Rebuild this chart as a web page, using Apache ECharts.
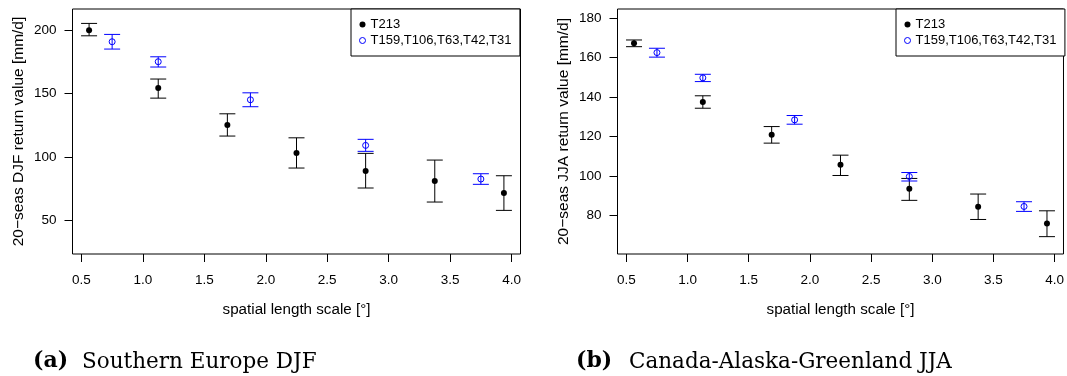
<!DOCTYPE html>
<html>
<head>
<meta charset="utf-8">
<script src="https://cdn.jsdelivr.net/npm/echarts@6/dist/echarts.min.js"></script>
<style>html,body{margin:0;padding:0;background:#fff;}#c{width:1067px;height:376px;}</style>
</head>
<body>
<div id="c"></div>
<script>
// ---- data ----
const xT213 = [0.5625, 1.125, 1.6875, 2.25, 2.8125, 3.375, 3.9375];
const xLowRes = [0.75, 1.125, 1.875, 2.8125, 3.75];

const djfT213   = [200.0, 154.4, 125.1, 102.9, 88.7, 80.8, 71.3];
const djfT213Lo = [195.7, 146.4, 116.4, 91.1, 75.3, 64.2, 57.6];
const djfT213Hi = [205.5, 161.5, 134.0, 115.0, 102.7, 97.4, 85.0];
const djfLow    = [191.0, 175.2, 145.1, 109.0, 82.4];
const djfLowLo  = [185.2, 171.0, 139.6, 104.3, 78.2];
const djfLowHi  = [196.8, 179.1, 150.6, 113.8, 86.6];

const jjaT213   = [167.3, 137.6, 120.9, 105.7, 93.6, 84.5, 75.9];
const jjaT213Lo = [165.6, 134.4, 116.7, 100.3, 87.7, 78.0, 69.3];
const jjaT213Hi = [169.0, 140.7, 125.1, 110.6, 98.8, 90.9, 82.4];
const jjaLow    = [162.6, 149.8, 128.5, 99.8, 84.6];
const jjaLowLo  = [160.3, 147.9, 126.3, 97.5, 82.1];
const jjaLowHi  = [164.8, 151.6, 130.7, 101.8, 87.0];

const xTicks = [0.5, 1.0, 1.5, 2.0, 2.5, 3.0, 3.5, 4.0];
const yTicksDJF = [50, 100, 150, 200];
const yTicksJJA = [80, 100, 120, 140, 160, 180];

const nameHi = 'T213';
const nameLow = 'T159,T106,T63,T42,T31';
const yTitleDJF = '20\u2212seas DJF return value [mm/d]';
const yTitleJJA = '20\u2212seas JJA return value [mm/d]';
const xTitle = 'spatial length scale [\u00b0]';

// ---- styles ----
const FONT = '"Liberation Sans", Arial, Helvetica, sans-serif';
const BLACK = '#000000';
const BLUE = '#0000ff';

function errRender(color) {
  return function (params, api) {
    const x = api.value(0), lo = api.value(1), hi = api.value(2);
    const a = api.coord([x, lo]), b = api.coord([x, hi]);
    const w = 8;
    const st = { stroke: color, lineWidth: 1 };
    return {
      type: 'group',
      children: [
        { type: 'line', shape: { x1: a[0], y1: a[1], x2: b[0], y2: b[1] }, style: st },
        { type: 'line', shape: { x1: a[0] - w, y1: a[1], x2: a[0] + w, y2: a[1] }, style: st },
        { type: 'line', shape: { x1: b[0] - w, y1: b[1], x2: b[0] + w, y2: b[1] }, style: st }
      ]
    };
  };
}

function xAxisFor(gi) {
  return {
    type: 'value', gridIndex: gi, min: 0.4275, max: 4.0725,
    name: xTitle, nameLocation: 'middle', nameGap: 48,
    nameTextStyle: { fontFamily: FONT, fontSize: 15.2, color: BLACK },
    axisLine: { show: false },
    axisTick: { show: true, inside: false, length: 8, customValues: xTicks, lineStyle: { color: BLACK } },
    axisLabel: { customValues: xTicks, margin: 19, fontFamily: FONT, fontSize: 13.5, color: BLACK,
      formatter: v => v.toFixed(1) },
    splitLine: { show: false }
  };
}
function yAxisFor(gi, min, max, ticks, title) {
  return {
    type: 'value', gridIndex: gi, min: min, max: max,
    name: title, nameLocation: 'middle', nameRotate: 90, nameGap: 46,
    nameTextStyle: { fontFamily: FONT, fontSize: 15.5, color: BLACK },
    axisLine: { show: false },
    axisTick: { show: true, inside: false, length: 8, customValues: ticks, lineStyle: { color: BLACK } },
    axisLabel: { customValues: ticks, margin: 16, fontFamily: FONT, fontSize: 13.5, color: BLACK },
    splitLine: { show: false }
  };
}

function seriesFor(gi, hi, hiLo, hiHi, low, lowLo, lowHi) {
  return [
    { type: 'custom', name: 'errHi' + gi, xAxisIndex: gi, yAxisIndex: gi,
      renderItem: errRender(BLACK), encode: { x: 0, y: [1, 2] },
      data: xT213.map((x, i) => [x, hiLo[i], hiHi[i]]), z: 2, silent: true },
    { type: 'custom', name: 'errLow' + gi, xAxisIndex: gi, yAxisIndex: gi,
      renderItem: errRender(BLUE), encode: { x: 0, y: [1, 2] },
      data: xLowRes.map((x, i) => [x, lowLo[i], lowHi[i]]), z: 2, silent: true },
    { type: 'scatter', name: nameHi, xAxisIndex: gi, yAxisIndex: gi,
      symbol: 'circle', symbolSize: 6, itemStyle: { color: BLACK, opacity: 1 },
      data: xT213.map((x, i) => [x, hi[i]]), z: 3 },
    { type: 'scatter', name: nameLow, xAxisIndex: gi, yAxisIndex: gi,
      symbol: 'circle', symbolSize: 6,
      itemStyle: { color: 'rgba(255,255,255,0)', borderColor: BLUE, borderWidth: 1, opacity: 1 },
      data: xLowRes.map((x, i) => [x, low[i]]), z: 3 }
  ];
}

function legendAt(left) {
  return {
    left: left, top: 9, orient: 'vertical', data: [nameHi, nameLow],
    itemWidth: 6, itemHeight: 6, itemGap: 3, itemTextGap: 10,
    padding: [9, 8.5, 9, 8], borderColor: BLACK, borderWidth: 1, borderRadius: 0,
    backgroundColor: '#fff', selectedMode: false,
    itemStyle: { borderWidth: 1 },
    textStyle: { fontFamily: FONT, fontSize: 13, color: BLACK }
  };
}

const CAP_FONT = '"DejaVu Serif", serif';
const chart = echarts.init(document.getElementById('c'), null, { renderer: 'canvas' });
chart.setOption({
  animation: false,
  backgroundColor: '#fff',
  grid: [
    { left: 72.5, top: 9, width: 448, height: 245, show: true, borderColor: BLACK, borderWidth: 1, backgroundColor: 'transparent' },
    { left: 617.5, top: 9, width: 447.5, height: 245, show: true, borderColor: BLACK, borderWidth: 1, backgroundColor: 'transparent' }
  ],
  xAxis: [xAxisFor(0), xAxisFor(1)],
  yAxis: [
    yAxisFor(0, 23.1, 216.9, yTicksDJF, yTitleDJF),
    yAxisFor(1, 60.5, 184.7, yTicksJJA, yTitleJJA)
  ],
  legend: [legendAt(351), legendAt(896)],
  series: [].concat(
    seriesFor(0, djfT213, djfT213Lo, djfT213Hi, djfLow, djfLowLo, djfLowHi),
    seriesFor(1, jjaT213, jjaT213Lo, jjaT213Hi, jjaLow, jjaLowLo, jjaLowHi)
  ),
  graphic: [
    { type: 'text', left: 33, top: 350, style: { text: '(a)', font: 'bold 22px ' + CAP_FONT, fill: '#000' } },
    { type: 'text', left: 82, top: 351, style: { text: 'Southern Europe DJF', font: '21.5px ' + CAP_FONT, fill: '#000' } },
    { type: 'text', left: 576, top: 350, style: { text: '(b)', font: 'bold 22px ' + CAP_FONT, fill: '#000' } },
    { type: 'text', left: 629, top: 351, style: { text: 'Canada-Alaska-Greenland JJA', font: '21.5px ' + CAP_FONT, fill: '#000' } }
  ]
});
</script>
</body>
</html>
